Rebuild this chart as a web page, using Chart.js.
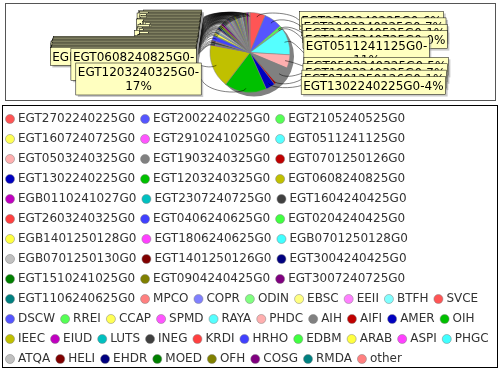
<!DOCTYPE html>
<html lang="en">
<head>
    <meta charset="UTF-8">
    <title>Pie chart</title>
    <style>
        body { margin: 0; padding: 0; background-color: #fff; }
    </style>
</head>
<body>
    <canvas id="myChart" width="500" height="370"></canvas>

    <script src="https://cdn.jsdelivr.net/npm/chart.js"></script>
    <script>
        // slice names, in drawing order (clockwise from 12 o'clock)
        var categories = [
            'EGT2702240225G0', 'EGT2002240225G0', 'EGT2105240525G0', 'EGT1607240725G0',
            'EGT2910241025G0', 'EGT0511241125G0', 'EGT0503240325G0', 'EGT1903240325G0',
            'EGT0701250126G0', 'EGT1302240225G0', 'EGT1203240325G0', 'EGT0608240825G0',
            'EGB0110241027G0', 'EGT2307240725G0', 'EGT1604240425G0', 'EGT2603240325G0',
            'EGT0406240625G0', 'EGT0204240425G0', 'EGB1401250128G0', 'EGT1806240625G0',
            'EGB0701250128G0', 'EGB0701250130G0', 'EGT1401250126G0', 'EGT3004240425G0',
            'EGT1510241025G0', 'EGT0904240425G0', 'EGT3007240725G0', 'EGT1106240625G0',
            'MPCO', 'COPR', 'ODIN', 'EBSC', 'EEII', 'BTFH', 'SVCE',
            'DSCW', 'RREI', 'CCAP', 'SPMD', 'RAYA', 'PHDC', 'AIH', 'AIFI', 'AMER', 'OIH',
            'IEEC', 'EIUD', 'LUTS', 'INEG', 'KRDI', 'HRHO', 'EDBM', 'ARAB', 'ASPI', 'PHGC',
            'ATQA', 'HELI', 'EHDR', 'MOED', 'OFH', 'COSG', 'RMDA', 'other'
        ];

        // share of each slice (percent)
        var values = [
            6.2, 7.3, 1.1, 0.3,
            0, 11.0, 5.4, 7.4,
            0.8, 3.8, 17.0, 17.6,
            0.4, 0.3, 1.0, 0.3,
            2.0, 0.3, 1.0, 0.3,
            0.4, 1.0, 0.3, 0.6,
            0.5, 0.8, 0.9, 0.4,
            0.3, 0.3, 0.2, 0.3, 0.2, 0.3, 0.4,
            0.5, 0.2, 0.3, 0.2, 0.3, 0.2, 0.5, 0.2, 0.3, 0.3,
            0.6, 0.2, 0.3, 0.3, 0.2, 0.3, 0.2, 0.3, 0.2, 0.3,
            0.5, 0.3, 0.4, 0.3, 0.6, 0.8, 0.3, 0.4
        ];

        // default paint sequence, repeats when it runs out
        var palette = [
            '#FF5555', '#5555FF', '#55FF55', '#FFFF55', '#FF55FF', '#55FFFF',
            '#FFAFAF', '#808080', '#C00000', '#0000C0', '#00C000', '#C0C000',
            '#C000C0', '#00C0C0', '#404040', '#FF4040', '#4040FF', '#40FF40',
            '#FFFF40', '#FF40FF', '#40FFFF', '#C0C0C0', '#800000', '#000080',
            '#008000', '#808000', '#800080', '#008080', '#FF8080', '#8080FF',
            '#80FF80', '#FFFF80', '#FF80FF', '#80FFFF'
        ];
        var colors = categories.map(function(c, i) { return palette[i % palette.length]; });

        var labelFont = '12px "DejaVu Sans"';
        var maxLabelW = 145;

        // JFreeChart style label spreading
        function distribute(recs, minY, height) {
            recs.sort(function(a, b) { return a.baseY - b.baseY; });
            recs.forEach(function(r) { r.y = r.baseY; });
            function overlap() {
                for (var i = 0; i < recs.length - 1; i++) {
                    if (recs[i + 1].y - recs[i + 1].h / 2 < recs[i].y + recs[i].h / 2) return true;
                }
                return false;
            }
            if (!overlap()) return;
            var sum = 0;
            recs.forEach(function(r) { sum += r.h; });
            var gap = height - sum;
            if (recs.length > 1) gap = gap / (recs.length - 1);
            var y = minY;
            recs.forEach(function(r) {
                y += r.h / 2;
                r.y = y;
                y += r.h / 2 + gap;
            });
        }

        var pieDecor = {
            id: 'pieDecor',
            beforeDraw: function(chart) {
                var ctx = chart.ctx;
                ctx.save();
                ctx.fillStyle = '#fff';
                ctx.fillRect(0, 0, chart.width, chart.height);
                ctx.lineWidth = 1;
                ctx.strokeStyle = '#555';
                ctx.strokeRect(5.5, 3.5, 490, 97);
                ctx.strokeStyle = '#000';
                ctx.strokeRect(2.5, 105.5, 495, 262);
                ctx.restore();
            },
            beforeDatasetsDraw: function(chart) {
                var ctx = chart.ctx;
                var a = chart.getDatasetMeta(0).data[0];
                ctx.save();
                ctx.fillStyle = '#808080';
                ctx.beginPath();
                ctx.arc(a.x + 4, a.y + 4, a.outerRadius, 0, Math.PI * 2);
                ctx.fill();
                ctx.restore();
            },
            afterDatasetsDraw: function(chart) {
                var ctx = chart.ctx;
                var meta = chart.getDatasetMeta(0);
                var cx = meta.data[0].x, cy = meta.data[0].y;
                var pieR = meta.data[0].outerRadius;
                var linkR = pieR / 0.95;
                var lGap = 12;
                var total = values.reduce(function(s, v) { return s + v; }, 0);
                var left = [], right = [];
                ctx.save();
                ctx.font = labelFont;
                values.forEach(function(v, i) {
                    if (v <= 0) return;
                    var a = meta.data[i];
                    var mid = (a.startAngle + a.endAngle) / 2;
                    var text = categories[i] + '-' + Math.round(v / total * 100) + '%';
                    var lines = [text];
                    if (ctx.measureText(text).width > maxLabelW) {
                        var k = text.lastIndexOf('-') + 1;
                        lines = [text.slice(0, k), text.slice(k)];
                    }
                    var w = 0;
                    lines.forEach(function(l) { w = Math.max(w, ctx.measureText(l).width); });
                    var rec = { mid: mid, lines: lines, w: w + 4, h: lines.length * 14 + 4,
                                baseY: cy + Math.sin(mid) * linkR };
                    (Math.cos(mid) < 0 ? left : right).push(rec);
                });
                distribute(left, 10, 85);
                distribute(right, 11.5, 83);

                function drawLabel(rec, s) {
                    var anchorX = cx + s * linkR;
                    var gap = lGap / 2 + lGap / 2 * s * Math.cos(rec.mid);
                    var tx = anchorX + s * gap, ty = rec.y;
                    var ex = cx + Math.cos(rec.mid) * linkR, ey = cy + Math.sin(rec.mid) * linkR;
                    var lx = cx + Math.cos(rec.mid) * pieR * 0.9, ly = cy + Math.sin(rec.mid) * pieR * 0.9;
                    ctx.strokeStyle = '#000';
                    ctx.lineWidth = 0.5;
                    ctx.beginPath();
                    ctx.moveTo(tx, ty);
                    ctx.bezierCurveTo(anchorX, ey, ex, ey, lx, ly);
                    ctx.stroke();

                    var bx = s > 0 ? tx : tx - rec.w;
                    var by = ty - rec.h / 2;
                    ctx.fillStyle = 'rgba(151,151,151,0.5)';
                    ctx.fillRect(bx + 2, by + 2, rec.w, rec.h);
                    ctx.fillStyle = 'rgb(255,255,192)';
                    ctx.fillRect(bx, by, rec.w, rec.h);
                    ctx.strokeRect(bx, by, rec.w, rec.h);
                    ctx.fillStyle = '#000';
                    ctx.textAlign = 'center';
                    ctx.textBaseline = 'alphabetic';
                    rec.lines.forEach(function(l, j) {
                        ctx.fillText(l, bx + rec.w / 2, by + 2 + 11.1 + j * 14);
                    });
                }
                left.forEach(function(r) { drawLabel(r, -1); });
                right.forEach(function(r) { drawLabel(r, 1); });
                ctx.restore();
            }
        };

        new Chart(document.getElementById('myChart'), {
            type: 'pie',
            data: {
                labels: categories,
                datasets: [{
                    data: values,
                    backgroundColor: colors,
                    borderColor: '#808080',
                    borderWidth: 0.5,
                    radius: 40
                }]
            },
            options: {
                responsive: false,
                animation: false,
                events: [],
                layout: { padding: { top: -6, bottom: -5, left: 0, right: 0 } },
                plugins: {
                    tooltip: { enabled: false },
                    legend: {
                        position: 'bottom',
                        align: 'start',
                        maxHeight: 300,
                        labels: {
                            usePointStyle: true,
                            pointStyle: 'circle',
                            boxWidth: 4,
                            boxHeight: 6.4,
                            padding: 8,
                            color: '#333',
                            font: { family: 'DejaVu Sans', size: 12 }
                        }
                    }
                }
            },
            plugins: [pieDecor]
        });
    </script>
</body>
</html>
